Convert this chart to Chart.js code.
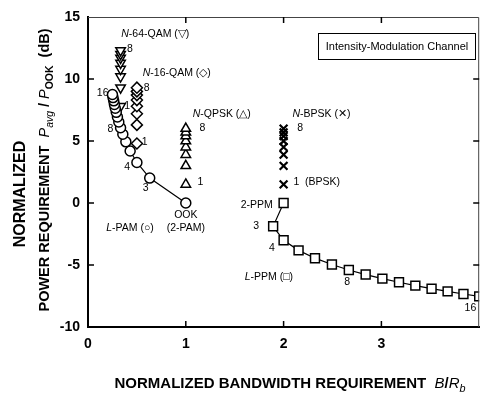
<!DOCTYPE html>
<html lang="en">
<head>
<meta charset="UTF-8">
<title>Power vs Bandwidth Requirement</title>
<script src="https://cdn.jsdelivr.net/npm/chart.js"></script>
<style>
  html, body { margin: 0; padding: 0; background: #fff; }
</style>
</head>
<body>
<canvas id="powerChart" width="487" height="394"></canvas>
<script>
// L-PAM, L = 2..16
const pamLevels = [2, 3, 4, 5, 6, 7, 8, 9, 10, 11, 12, 13, 14, 15, 16];
const pamBandwidth = [1, 0.631, 0.5, 0.431, 0.387, 0.356, 0.333, 0.315, 0.301, 0.289, 0.279, 0.270, 0.263, 0.256, 0.25];
const pamPower = [0, 2.01, 3.27, 4.19, 4.93, 5.54, 6.07, 6.53, 6.94, 7.31, 7.64, 7.95, 8.24, 8.50, 8.75];

// L-PPM, L = 2..16
const ppmBandwidth = [2, 1.893, 2, 2.153, 2.321, 2.494, 2.667, 2.839, 3.010, 3.180, 3.347, 3.513, 3.677, 3.839, 4.0];
const ppmPower = [0, -1.88, -3.01, -3.82, -4.45, -4.96, -5.40, -5.77, -6.10, -6.39, -6.66, -6.91, -7.13, -7.34, -7.53];

// multiple-subcarrier schemes, N = 1..8
const subcarriers = [1, 2, 3, 4, 5, 6, 7, 8];
const qam64Bandwidth = 0.333;
const qam64Power = [7.8, 9.3, 10.2, 10.8, 11.3, 11.7, 12.0, 12.3];
const qam16Bandwidth = 0.5;
const qam16Power = [4.8, 6.3, 7.2, 7.8, 8.3, 8.7, 9.0, 9.3];
const qpskBandwidth = 1;
const qpskPower = [1.5, 3.0, 3.9, 4.5, 5.0, 5.4, 5.7, 6.0];
const bpskBandwidth = 2;
const bpskPower = [1.5, 3.0, 3.9, 4.5, 5.0, 5.4, 5.7, 6.0];

const xTicks = [0, 1, 2, 3];
const yTicks = [-10, -5, 0, 5, 10, 15];

const FONT = '"Liberation Sans", Arial, sans-serif';

// text notes placed in data units
const notes = [
    { x: 0.34, y: 13.6, parts: [['N', 'i'], ['-64-QAM (▽)']], align: 'left' },
    { x: 0.40, y: 12.4, parts: [['8']], align: 'left' },
    { x: 0.56, y: 10.5, parts: [['N', 'i'], ['-16-QAM (◇)']], align: 'left' },
    { x: 0.57, y: 9.3, parts: [['8']], align: 'left' },
    { x: 0.15, y: 8.9, parts: [['16']], align: 'center' },
    { x: 0.37, y: 7.8, parts: [['1']], align: 'left' },
    { x: 0.23, y: 5.95, parts: [['8']], align: 'center' },
    { x: 0.55, y: 4.9, parts: [['1']], align: 'left' },
    { x: 0.40, y: 2.9, parts: [['4']], align: 'center' },
    { x: 0.59, y: 1.2, parts: [['3']], align: 'center' },
    { x: 1.0, y: -0.95, parts: [['OOK']], align: 'center' },
    { x: 1.0, y: -2.0, parts: [['(2-PAM)']], align: 'center' },
    { x: 0.43, y: -2.0, parts: [['L', 'i'], ['-PAM (○)']], align: 'center' },
    { x: 1.07, y: 7.15, parts: [['N', 'i'], ['-QPSK (△)']], align: 'left' },
    { x: 1.14, y: 6.0, parts: [['8']], align: 'left' },
    { x: 1.12, y: 1.7, parts: [['1']], align: 'left' },
    { x: 2.09, y: 7.15, parts: [['N', 'i'], ['-BPSK (✕)']], align: 'left' },
    { x: 2.14, y: 6.0, parts: [['8']], align: 'left' },
    { x: 2.10, y: 1.7, parts: [['1  (BPSK)']], align: 'left' },
    { x: 1.89, y: -0.15, parts: [['2-PPM']], align: 'right' },
    { x: 1.72, y: -1.85, parts: [['3']], align: 'center' },
    { x: 1.88, y: -3.6, parts: [['4']], align: 'center' },
    { x: 1.85, y: -6.0, parts: [['L', 'i'], ['-PPM (□)']], align: 'center' },
    { x: 2.65, y: -6.4, parts: [['8']], align: 'center' },
    { x: 3.91, y: -8.45, parts: [['16']], align: 'center' }
];

// draw a run of text pieces: [text, style] with style '' | 'i' | 'sub' | 'isub'
function drawRich(ctx, parts, x, y, align, size, weight) {
    const fontFor = s => {
        const italic = s && s.indexOf('i') === 0 ? 'italic ' : '';
        const sz = s && s.indexOf('sub') >= 0 ? size * 0.72 : size;
        const w = italic ? 'normal' : weight;
        return italic + w + ' ' + sz + 'px ' + FONT;
    };
    let total = 0;
    parts.forEach(p => { ctx.font = fontFor(p[1]); total += ctx.measureText(p[0]).width; });
    let cx = align === 'left' ? x : align === 'right' ? x - total : x - total / 2;
    ctx.textAlign = 'left';
    ctx.textBaseline = 'middle';
    parts.forEach(p => {
        ctx.font = fontFor(p[1]);
        const dy = p[1] && p[1].indexOf('sub') >= 0 ? size * 0.35 : 0;
        ctx.fillText(p[0], cx, y + dy);
        cx += ctx.measureText(p[0]).width;
    });
}

const decorations = {
    id: 'decorations',
    afterDraw(chart) {
        const ctx = chart.ctx;
        const xs = chart.scales.x, ys = chart.scales.y;
        const { left, right, top, bottom } = chart.chartArea;
        ctx.save();
        ctx.fillStyle = '#000';

        // top and right frame
        ctx.lineWidth = 1;
        ctx.strokeStyle = '#444';
        ctx.beginPath();
        ctx.moveTo(left, top + 0.5); ctx.lineTo(right - 0.5, top + 0.5); ctx.lineTo(right - 0.5, bottom);
        ctx.stroke();

        // inward ticks
        ctx.strokeStyle = '#000';
        ctx.lineWidth = 1.5;
        ctx.beginPath();
        xTicks.forEach(v => {
            if (v <= 0) return;
            const px = xs.getPixelForValue(v);
            ctx.moveTo(px, bottom); ctx.lineTo(px, bottom - 6);
            ctx.moveTo(px, top); ctx.lineTo(px, top + 6);
        });
        yTicks.forEach(v => {
            if (v <= -10 || v >= 15) return;
            const py = ys.getPixelForValue(v);
            ctx.moveTo(left, py); ctx.lineTo(left + 6, py);
            ctx.moveTo(right, py); ctx.lineTo(right - 6, py);
        });
        ctx.stroke();

        // notes
        notes.forEach(n => {
            drawRich(ctx, n.parts, xs.getPixelForValue(n.x), ys.getPixelForValue(n.y), n.align, 10.5, 'normal');
        });

        // channel box
        ctx.lineWidth = 1;
        ctx.strokeRect(318.5, 33.5, 157, 26);
        ctx.font = '11px ' + FONT;
        ctx.textAlign = 'center';
        ctx.textBaseline = 'middle';
        ctx.fillText('Intensity-Modulation Channel', 397, 47);

        // x axis title
        drawRich(ctx, [['NORMALIZED BANDWIDTH REQUIREMENT  ', ''], ['B', 'i'], ['/', ''], ['R', 'i'], ['b', 'isub']],
            290, 384, 'center', 15, 'bold');

        // y axis title
        ctx.save();
        ctx.translate(21, 194);
        ctx.rotate(-Math.PI / 2);
        drawRich(ctx, [['NORMALIZED', '']], 0, 0, 'center', 16, 'bold');
        ctx.restore();
        ctx.save();
        ctx.translate(45, 170);
        ctx.rotate(-Math.PI / 2);
        drawRich(ctx, [['POWER REQUIREMENT  ', ''], ['P', 'i'], ['avg', 'isub'], [' / ', ''], ['P', 'i'], ['OOK', 'sub'], ['  (dB)', '']],
            0, 0, 'center', 14.5, 'bold');
        ctx.restore();

        ctx.restore();
    }
};

const openPoint = {
    borderColor: '#000',
    backgroundColor: '#fff',
    pointBackgroundColor: '#fff',
    pointBorderColor: '#000',
    pointBorderWidth: 1.5
};

new Chart(document.getElementById('powerChart').getContext('2d'), {
    type: 'scatter',
    data: {
        datasets: [
            {
                label: 'L-PAM',
                data: pamLevels.map((L, i) => ({ x: pamBandwidth[i], y: pamPower[i] })),
                showLine: true,
                borderWidth: 1.2,
                pointStyle: 'circle',
                pointRadius: 5,
                ...openPoint
            },
            {
                label: 'L-PPM',
                data: pamLevels.map((L, i) => ({ x: ppmBandwidth[i], y: ppmPower[i] })),
                showLine: true,
                borderWidth: 1.2,
                pointStyle: 'rect',
                pointRadius: 6.3,
                ...openPoint
            },
            {
                label: 'N-64-QAM',
                data: subcarriers.map((N, i) => ({ x: qam64Bandwidth, y: qam64Power[i] })),
                pointStyle: 'triangle',
                rotation: 180,
                pointRadius: 5.5,
                ...openPoint
            },
            {
                label: 'N-16-QAM',
                data: subcarriers.map((N, i) => ({ x: qam16Bandwidth, y: qam16Power[i] })),
                pointStyle: 'rectRot',
                pointRadius: 5.5,
                ...openPoint
            },
            {
                label: 'N-QPSK',
                data: subcarriers.map((N, i) => ({ x: qpskBandwidth, y: qpskPower[i] })),
                pointStyle: 'triangle',
                pointRadius: 5.5,
                ...openPoint
            },
            {
                label: 'N-BPSK',
                data: subcarriers.map((N, i) => ({ x: bpskBandwidth, y: bpskPower[i] })),
                pointStyle: 'crossRot',
                pointRadius: 5.5,
                ...openPoint,
                pointBorderWidth: 2.2
            }
        ]
    },
    options: {
        responsive: false,
        animation: false,
        devicePixelRatio: 1,
        layout: { padding: { top: 17, right: 0, left: 0, bottom: 0 } },
        plugins: {
            legend: { display: false },
            tooltip: { enabled: false }
        },
        scales: {
            x: {
                type: 'linear',
                min: 0,
                max: 4,
                afterFit(scale) { scale.height = 67; },
                afterBuildTicks(scale) { scale.ticks = xTicks.map(v => ({ value: v })); },
                grid: { drawOnChartArea: false, drawTicks: false },
                border: { display: true, color: '#000', width: 2 },
                ticks: {
                    padding: 9,
                    color: '#000',
                    font: { family: FONT, size: 14, weight: 'bold' }
                }
            },
            y: {
                type: 'linear',
                min: -10,
                max: 15,
                afterFit(scale) { scale.width = 88; },
                afterBuildTicks(scale) { scale.ticks = yTicks.map(v => ({ value: v })); },
                grid: { drawOnChartArea: false, drawTicks: false },
                border: { display: true, color: '#000', width: 2 },
                ticks: {
                    padding: 8,
                    color: '#000',
                    font: { family: FONT, size: 14, weight: 'bold' }
                }
            }
        }
    },
    plugins: [decorations]
});
</script>
</body>
</html>
